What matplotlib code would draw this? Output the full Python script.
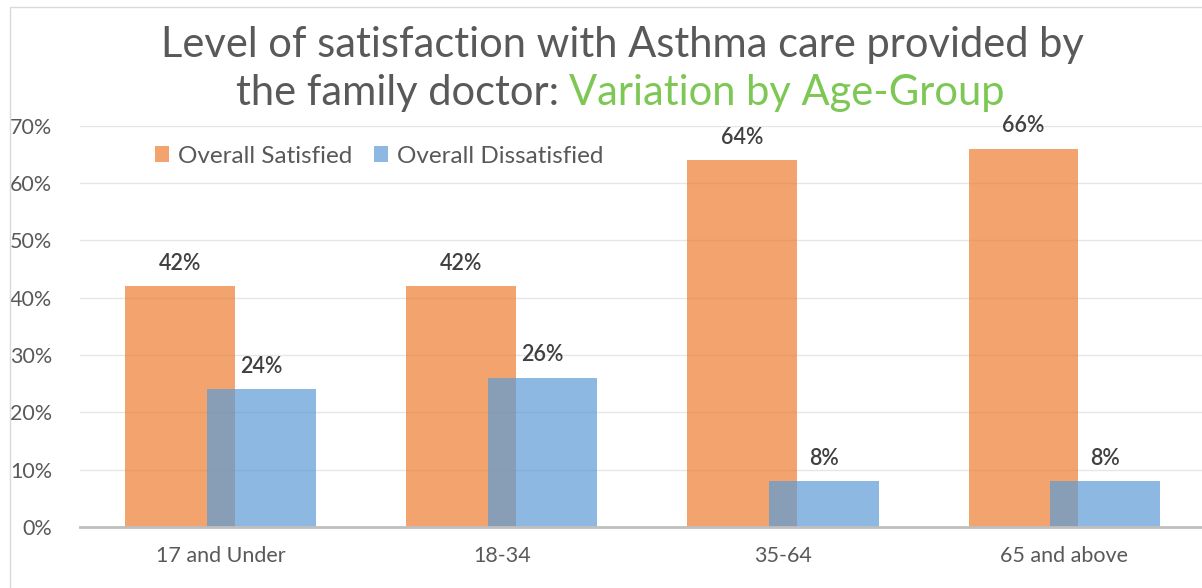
import numpy as np
import matplotlib.pyplot as plt
from matplotlib.patches import Rectangle

# Datos del gráfico
grupos = ['17 and Under', '18-34', '35-64', '65 and above']
satisfechos = [0.42, 0.42, 0.64, 0.66]
insatisfechos = [0.24, 0.26, 0.08, 0.08]
ticks_y = [0, 0.1, 0.2, 0.3, 0.4, 0.5, 0.6, 0.7]

naranja = '#ED7D31'
azul = '#5B9BD5'
gris = '#595959'

plt.rcParams['font.family'] = ['Lato', 'DejaVu Sans']

fig = plt.figure(figsize=(12.02, 5.88), dpi=100)
ax = fig.add_axes([0.0666, 0.104, 0.9334, 0.682])

x = np.arange(len(grupos))
ancho = 0.39
desp = 0.145

b1 = ax.bar(x - desp, satisfechos, ancho, color=naranja, alpha=0.7, label='Overall Satisfied', zorder=2)
b2 = ax.bar(x + desp, insatisfechos, ancho, color=azul, alpha=0.7, label='Overall Dissatisfied', zorder=3)

for barras in (b1, b2):
    for b in barras:
        ax.annotate(f'{b.get_height()*100:.0f}%', (b.get_x() + b.get_width()/2, b.get_height()),
                    xytext=(0, 9), textcoords='offset points', ha='center', va='bottom',
                    fontsize=15.5, color='#404040', fontweight='semibold')

ax.set_xlim(-0.5, 3.49)
ax.set_ylim(0, 0.7)
ax.set_yticks(ticks_y)
ax.set_yticklabels([f'{t*100:.0f}%' for t in ticks_y])
ax.set_xticks(x)
ax.set_xticklabels(grupos)
ax.tick_params(axis='both', length=0, labelsize=15.5, labelcolor=gris)
ax.tick_params(axis='y', pad=20)
ax.tick_params(axis='x', pad=14)
ax.yaxis.grid(True, color='#E6E6E6', linewidth=1, zorder=0)
ax.set_axisbelow(True)
for s in ['top', 'right', 'left']:
    ax.spines[s].set_visible(False)
ax.spines['bottom'].set_color('#BFBFBF')
ax.spines['bottom'].set_linewidth(2)
ax.spines['bottom'].set_zorder(4)

leg = ax.legend(loc='upper left', bbox_to_anchor=(0.047, 1.005), ncol=2, frameon=False,
                fontsize=17.5, handlelength=0.6, handleheight=0.6, handletextpad=0.35,
                columnspacing=0.9, labelcolor=gris)

# Borde del área del gráfico
fig.patches.append(Rectangle((10/1202, -0.01), 1.1, 1 - 7/588 + 0.01, transform=fig.transFigure,
                             fill=False, edgecolor='#D9D9D9', linewidth=1))

# Título en dos líneas, con la segunda parte en verde
fig.text(0.518, 1 - 45/588, 'Level of satisfaction with Asthma care provided by',
         ha='center', va='center', fontsize=30, color=gris)
t1 = fig.text(0, 1 - 93/588, 'the family doctor: ', ha='left', va='center', fontsize=30, color=gris)
t2 = fig.text(0, 1 - 93/588, 'Variation by Age-Group', ha='left', va='center', fontsize=30, color='#7DC855')
fig.canvas.draw()
r = fig.canvas.get_renderer()
w1 = t1.get_window_extent(r).width
w2 = t2.get_window_extent(r).width
inicio = 0.516 * 1202 - (w1 + w2) / 2
t1.set_x(inicio / 1202)
t2.set_x((inicio + w1) / 1202)

plt.savefig('out.png', dpi=100)
